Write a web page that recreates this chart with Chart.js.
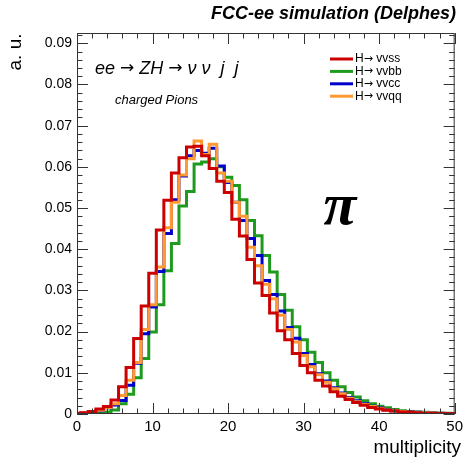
<!DOCTYPE html>
<html>
<head>
<meta charset="utf-8">
<script src="https://cdn.jsdelivr.net/npm/chart.js@4"></script>
<style>
  body { margin: 0; background: #fff; }
  canvas { display: block; }
</style>
</head>
<body>
<canvas id="multChart" width="467" height="463"></canvas>
<script>
// bin centres 0..50 (bins of width 1, centred on integers)
const binCenters = [];
for (let i = 0; i <= 50; i++) binCenters.push(i);

const seriesNames = ['H\u2192 vvss', 'H\u2192 vvbb', 'H\u2192 vvcc', 'H\u2192 vvqq'];

const vvss = [0.0002, 0.0003, 0.0006, 0.0012, 0.0018, 0.0034, 0.0066, 0.0113, 0.0183, 0.0262,
  0.0342, 0.0447, 0.0519, 0.0585, 0.0622, 0.0648, 0.0650, 0.0627, 0.0596, 0.0565,
  0.0538, 0.0473, 0.0432, 0.0375, 0.0318, 0.0288, 0.0245, 0.0202, 0.0180, 0.0147,
  0.0118, 0.0100, 0.0082, 0.0068, 0.0054, 0.0043, 0.0035, 0.0028, 0.0021, 0.0016,
  0.0012, 0.0009, 0.0007, 0.0005, 0.0004, 0.0003, 0.0002, 0.0002, 0.0001, 0.0001, 0.0001];

const vvbb = [0.0000, 0.0001, 0.0002, 0.0003, 0.0005, 0.0010, 0.0025, 0.0048, 0.0088, 0.0135,
  0.0199, 0.0265, 0.0348, 0.0414, 0.0505, 0.0540, 0.0607, 0.0612, 0.0620, 0.0600,
  0.0575, 0.0555, 0.0520, 0.0470, 0.0433, 0.0385, 0.0345, 0.0290, 0.0252, 0.0212,
  0.0180, 0.0150, 0.0125, 0.0100, 0.0082, 0.0066, 0.0052, 0.0041, 0.0032, 0.0025,
  0.0019, 0.0015, 0.0011, 0.0008, 0.0006, 0.0005, 0.0004, 0.0003, 0.0002, 0.0002, 0.0001];

const vvcc = [0.0001, 0.0002, 0.0004, 0.0008, 0.0015, 0.0022, 0.0033, 0.0070, 0.0123, 0.0195,
  0.0260, 0.0346, 0.0438, 0.0520, 0.0578, 0.0627, 0.0640, 0.0633, 0.0645, 0.0602,
  0.0562, 0.0514, 0.0470, 0.0426, 0.0385, 0.0324, 0.0290, 0.0250, 0.0210, 0.0184,
  0.0147, 0.0120, 0.0098, 0.0080, 0.0064, 0.0051, 0.0040, 0.0032, 0.0025, 0.0019,
  0.0015, 0.0011, 0.0008, 0.0006, 0.0005, 0.0004, 0.0003, 0.0002, 0.0002, 0.0001, 0.0001];

const vvqq = [0.0001, 0.0002, 0.0004, 0.0009, 0.0016, 0.0025, 0.0045, 0.0082, 0.0125, 0.0205,
  0.0265, 0.0357, 0.0452, 0.0514, 0.0580, 0.0620, 0.0663, 0.0630, 0.0655, 0.0585,
  0.0565, 0.0514, 0.0480, 0.0405, 0.0360, 0.0315, 0.0280, 0.0240, 0.0205, 0.0175,
  0.0142, 0.0115, 0.0095, 0.0077, 0.0061, 0.0049, 0.0038, 0.0030, 0.0023, 0.0018,
  0.0014, 0.0010, 0.0008, 0.0006, 0.0004, 0.0003, 0.0003, 0.0002, 0.0002, 0.0001, 0.0001];

const xTicks = [0, 10, 20, 30, 40, 50];
const yTicks = [0, 0.01, 0.02, 0.03, 0.04, 0.05, 0.06, 0.07, 0.08, 0.09];
const yTickLabels = ['0', '0.01', '0.02', '0.03', '0.04', '0.05', '0.06', '0.07', '0.08', '0.09'];

const colors = {
  vvss: '#cc0000',
  vvbb: '#1e9a1e',
  vvcc: '#0000cc',
  vvqq: '#ff9933'
};

const SANS = '"Liberation Sans", Arial, sans-serif';
const ARROW = '"DejaVu Sans", sans-serif';

// turn bin values into step points at the left edge of each bin
function toSteps(values) {
  const pts = binCenters.map((c, i) => ({ x: c - 0.5, y: values[i] }));
  pts.push({ x: binCenters[binCenters.length - 1] + 0.5, y: values[values.length - 1] });
  return pts;
}

function histo(label, values, color) {
  return {
    label: label,
    data: toSteps(values),
    borderColor: color,
    borderWidth: 3,
    stepped: 'before',
    pointRadius: 0,
    fill: false
  };
}

// draw text in pieces, arrows with a font that has a full size arrow
function drawRuns(ctx, text, x, y, textFont, arrowFont) {
  const parts = text.split('\u2192');
  parts.forEach((p, i) => {
    ctx.font = textFont;
    ctx.fillText(p, x, y);
    x += ctx.measureText(p).width;
    if (i < parts.length - 1) {
      ctx.font = arrowFont;
      ctx.fillText('\u2192', x, y);
      x += ctx.measureText('\u2192').width;
    }
  });
}

// frame, inward ticks on all sides, texts and legend (ROOT style)
const rootStyle = {
  id: 'rootStyle',
  afterDraw(chart) {
    const ctx = chart.ctx;
    const a = chart.chartArea;
    const xs = chart.scales.x, ys = chart.scales.y;
    ctx.save();
    ctx.strokeStyle = '#333';
    ctx.lineWidth = 1;
    ctx.strokeRect(a.left + 0.5, a.top + 0.5, a.right - a.left - 1, a.bottom - a.top - 1);

    ctx.beginPath();
    for (let v = 0; v <= 50; v += 2) {
      const px = Math.round(xs.getPixelForValue(v)) + 0.5;
      const len = v % 10 === 0 ? 11 : 5.5;
      ctx.moveTo(px, a.bottom); ctx.lineTo(px, a.bottom - len);
      ctx.moveTo(px, a.top); ctx.lineTo(px, a.top + len);
    }
    for (let k = 0; k <= 46; k++) {
      const v = k * 0.002;
      if (v > ys.max) break;
      const py = Math.round(ys.getPixelForValue(v)) + 0.5;
      const len = k % 5 === 0 ? 11 : 5.5;
      ctx.moveTo(a.left, py); ctx.lineTo(a.left + len, py);
      ctx.moveTo(a.right, py); ctx.lineTo(a.right - len, py);
    }
    ctx.stroke();

    ctx.fillStyle = '#000';
    ctx.textBaseline = 'middle';

    ctx.font = 'italic bold 18px ' + SANS;
    ctx.textAlign = 'right';
    ctx.fillText('FCC-ee simulation (Delphes)', 456, 14);

    ctx.font = '19px ' + SANS;
    ctx.fillText('multiplicity', 461, 448);

    ctx.save();
    ctx.translate(16, 52);
    ctx.rotate(-Math.PI / 2);
    ctx.textAlign = 'center';
    ctx.font = '19px ' + SANS;
    ctx.fillText('a. u.', 0, 0);
    ctx.restore();

    ctx.textAlign = 'left';
    drawRuns(ctx, 'ee \u2192 ZH \u2192 \u03BD \u03BD  j  j', 95, 69,
      'italic 18px ' + SANS, '17px ' + ARROW);

    ctx.font = 'italic 13px ' + SANS;
    ctx.fillText('charged Pions', 115, 100);

    ctx.font = 'italic bold 60px "Liberation Serif", serif';
    ctx.textAlign = 'center';
    ctx.fillText('\u03C0', 340, 208);

    // legend
    const legendColors = [colors.vvss, colors.vvbb, colors.vvcc, colors.vvqq];
    ctx.textAlign = 'left';
    seriesNames.forEach((name, i) => {
      const y = 59 + i * 12.4;
      ctx.strokeStyle = legendColors[i];
      ctx.lineWidth = 3;
      ctx.beginPath();
      ctx.moveTo(330, y); ctx.lineTo(353, y);
      ctx.stroke();
      drawRuns(ctx, name, 355, y, '12px ' + SANS, '11px ' + ARROW);
    });
    ctx.restore();
  }
};

const ctx = document.getElementById('multChart').getContext('2d');
const chart = new Chart(ctx, {
  type: 'line',
  data: {
    // first dataset is drawn on top
    datasets: [
      histo(seriesNames[0], vvss, colors.vvss),
      histo(seriesNames[3], vvqq, colors.vvqq),
      histo(seriesNames[2], vvcc, colors.vvcc),
      histo(seriesNames[1], vvbb, colors.vvbb)
    ]
  },
  options: {
    responsive: false,
    animation: false,
    layout: { padding: { top: 33, right: 5, left: 0, bottom: 0 } },
    plugins: { legend: { display: false }, tooltip: { enabled: false } },
    scales: {
      x: {
        type: 'linear',
        min: 0,
        max: 50,
        grid: { display: false, drawTicks: false },
        border: { display: false },
        afterBuildTicks: s => { s.ticks = xTicks.map(v => ({ value: v })); },
        afterFit: s => { s.height = 49; },
        ticks: {
          padding: 4,
          color: '#000',
          maxRotation: 0,
          font: { family: SANS, size: 15 }
        }
      },
      y: {
        type: 'linear',
        min: 0,
        max: 0.0925,
        grid: { display: false, drawTicks: false },
        border: { display: false },
        afterBuildTicks: s => { s.ticks = yTicks.map(v => ({ value: v })); },
        afterFit: s => { s.width = 77; },
        ticks: {
          padding: 5,
          color: '#000',
          font: { family: SANS, size: 14 },
          callback: (v, i) => yTickLabels[i]
        }
      }
    }
  },
  plugins: [rootStyle]
});
</script>
</body>
</html>
